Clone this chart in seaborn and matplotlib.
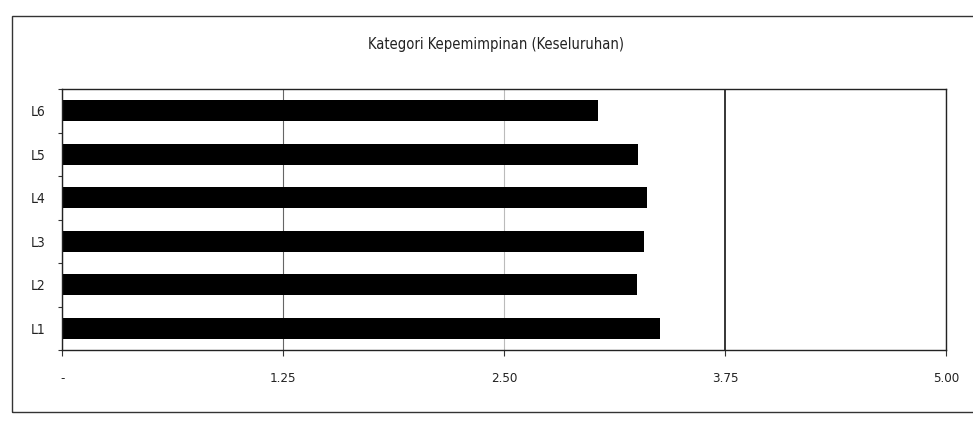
import matplotlib
matplotlib.use("Agg")
import matplotlib.pyplot as plt
import matplotlib.ticker as mticker
from matplotlib.patches import Rectangle
import seaborn as sns
import pandas as pd

# Leadership category scores (overall)
categories = ["L6", "L5", "L4", "L3", "L2", "L1"]
scores = [3.03, 3.26, 3.31, 3.29, 3.25, 3.38]
x_ticks = [0, 1.25, 2.50, 3.75, 5.00]
title = "Kategori Kepemimpinan (Keseluruhan)"

df = pd.DataFrame({"kategori": categories, "skor": scores})

sns.set_theme(style="white")
plt.rcParams["font.family"] = ["DejaVu Sans"]
plt.rcParams["font.stretch"] = "condensed"

fig = plt.figure(figsize=(9.73, 4.26), dpi=100)
ax = fig.add_axes([0.064, 0.178, 0.908, 0.613])
ax.set_axisbelow(True)

sns.barplot(data=df, x="skor", y="kategori", order=categories,
            color="black", saturation=1, width=0.48, linewidth=0, ax=ax)

ax.set_xlim(0, 5)
ax.set_xticks(x_ticks)
ax.xaxis.set_major_formatter(
    mticker.FuncFormatter(lambda v, p: "-" if v == 0 else f"{v:.2f}"))
ax.set_xlabel("")
ax.set_ylabel("")

# vertical gridlines
ax.xaxis.grid(True, color="#666666", linewidth=0.8)
for line, v in zip(ax.get_xgridlines(), x_ticks):
    if v == 3.75:
        line.set_color("black")
        line.set_linewidth(1.1)
    elif v == 2.50:
        line.set_color("#bbbbbb")

for s in ax.spines.values():
    s.set_color("#222222")
    s.set_linewidth(1.0)

ax.tick_params(axis="x", which="major", bottom=True, length=4, width=0.8,
               color="#333333", labelsize=9.5, pad=12, labelcolor="#222222")
ax.tick_params(axis="y", which="major", left=False, labelsize=10, pad=6,
               labelcolor="#222222")
ax.set_yticks([i - 0.5 for i in range(len(categories) + 1)], minor=True)
ax.tick_params(axis="y", which="minor", left=True, length=3, width=0.8,
               color="#333333")

fig.text(0.51, 0.895, title, ha="center", va="center", fontsize=10.5,
         color="#222222")

# outer chart frame
fig.patches.append(Rectangle((0.012, 0.033), 1.0, 0.93,
                             transform=fig.transFigure, fill=False,
                             edgecolor="#333333", linewidth=1.0))

fig.savefig("out.png", dpi=100)
